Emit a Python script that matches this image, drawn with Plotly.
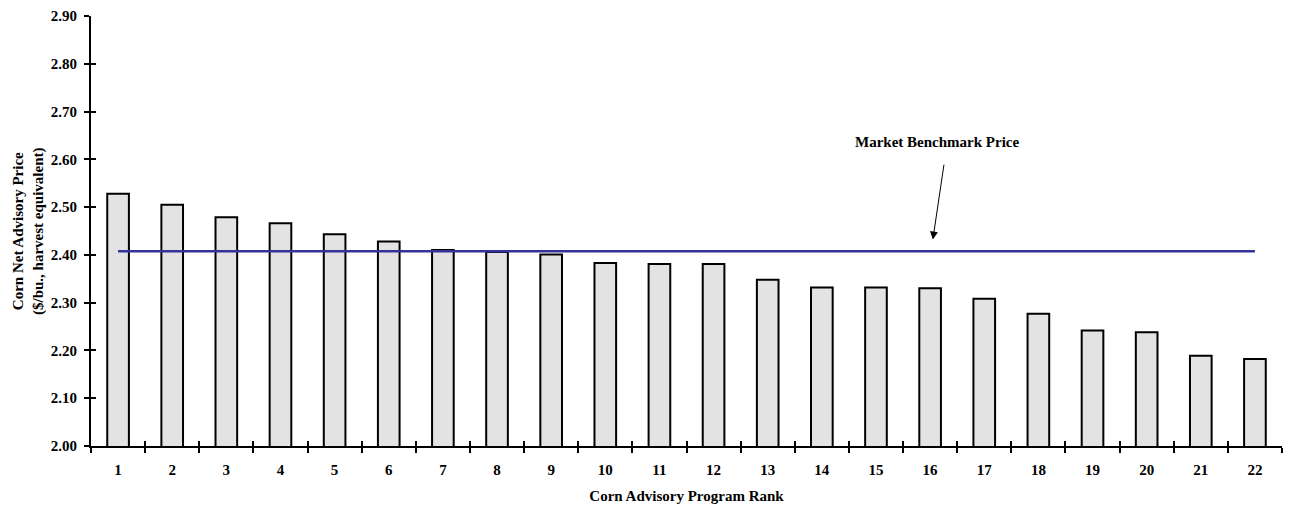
import plotly.graph_objects as go

ranks = list(range(1, 23))
prices = [2.528, 2.505, 2.479, 2.466, 2.443, 2.428, 2.410, 2.406, 2.401, 2.383, 2.381,
          2.381, 2.348, 2.332, 2.332, 2.330, 2.308, 2.277, 2.242, 2.238, 2.189, 2.182]
benchmark_price = 2.4076
bench_x = [1, 22]
bench_y = [benchmark_price, benchmark_price]
y_ticks = [2.0, 2.1, 2.2, 2.3, 2.4, 2.5, 2.6, 2.7, 2.8, 2.9]

FONT = dict(family="Liberation Serif, Times New Roman, serif", size=15, color="black", weight="bold")
boundaries = [r - 0.5 for r in ranks] + [ranks[-1] + 0.5]
xr = [0.5, 22.5]
yr = [2.0, 2.9]

fig = go.Figure()
fig.add_trace(go.Bar(x=ranks, y=prices, marker=dict(color="#E3E3E3", line=dict(color="black", width=2)),
                     width=0.4, showlegend=False, hoverinfo="x+y"))
fig.add_trace(go.Scatter(x=bench_x, y=bench_y, mode="lines", line=dict(color="#333399", width=2.5),
                         showlegend=False, name="Market Benchmark Price"))

fig.update_layout(
    width=1290, height=510,
    margin=dict(l=91, r=8, t=12, b=63),
    paper_bgcolor="white", plot_bgcolor="white",
    font=FONT,
    xaxis=dict(range=xr, tickmode="array", tickvals=boundaries, showticklabels=False,
               ticks="outside", ticklen=5, tickwidth=2, tickcolor="black",
               showline=True, linecolor="black", linewidth=2, showgrid=False, zeroline=False),
    xaxis2=dict(range=xr, overlaying="x", anchor="y", tickmode="array", tickvals=boundaries,
                showticklabels=False, ticks="inside", ticklen=5, tickwidth=2, tickcolor="black",
                showline=False, showgrid=False, zeroline=False),
    xaxis3=dict(range=xr, overlaying="x", anchor="y", side="bottom", tickmode="array", tickvals=ranks,
                ticktext=[str(r) for r in ranks], ticks="", ticklabelstandoff=13,
                showline=False, showgrid=False, zeroline=False,
                title=dict(text="Corn Advisory Program Rank", font=FONT, standoff=13)),
    yaxis=dict(range=yr, tickmode="array", tickvals=y_ticks, tickformat=".2f",
               ticks="outside", ticklen=5, tickwidth=2, tickcolor="black", ticklabelstandoff=4,
               showline=True, linecolor="black", linewidth=2, showgrid=False, zeroline=False),
    yaxis2=dict(range=yr, overlaying="y", anchor="x", tickmode="array", tickvals=y_ticks,
                showticklabels=False, ticks="inside", ticklen=5, tickwidth=2, tickcolor="black",
                showline=False, showgrid=False, zeroline=False),
    annotations=[
        dict(text="Corn Net Advisory Price<br>($/bu., harvest equivalent)", xref="paper", yref="paper",
             x=0, y=0.5, xshift=-63, xanchor="center", yanchor="middle", textangle=-90,
             showarrow=False, font=FONT),
        dict(text="Market Benchmark Price", xref="x", yref="y", x=16.13, y=2.637,
             showarrow=False, font=FONT),
        dict(text="", xref="x", yref="y", axref="x", ayref="y", x=16.05, y=2.432,
             ax=16.26, ay=2.592, showarrow=True, arrowhead=2, arrowsize=1.6, arrowwidth=1,
             arrowcolor="black"),
    ],
)
fig.add_trace(go.Scatter(x=[None], y=[None], xaxis="x2", yaxis="y2", showlegend=False))
fig.add_trace(go.Scatter(x=[None], y=[None], xaxis="x3", yaxis="y", showlegend=False))

fig.write_html("out.html", config={"displayModeBar": False},
               post_script="document.body.style.margin='0';")
